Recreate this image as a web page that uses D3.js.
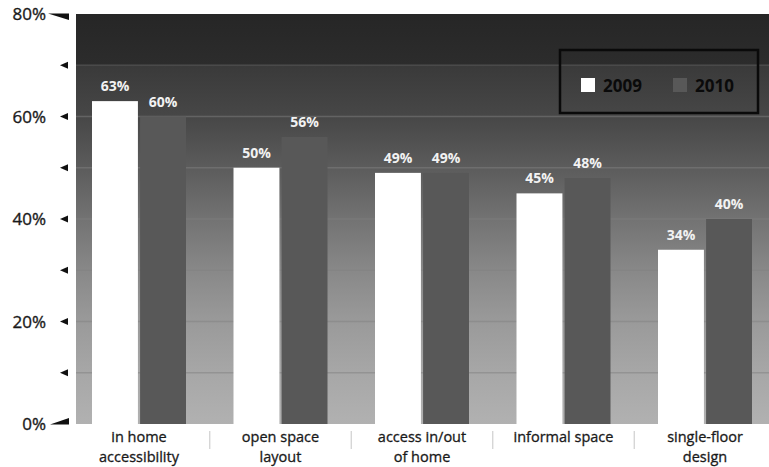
<!DOCTYPE html>
<html>
<head>
<meta charset="utf-8">
<script src="https://cdn.jsdelivr.net/npm/d3@7/dist/d3.min.js"></script>
<style>
  html, body { margin: 0; padding: 0; background: #fff; }
  svg { display: block; }
</style>
</head>
<body>
<svg id="chart" width="769" height="467"></svg>
<script>
// Survey results: share of respondents citing each home-design feature
const categories = [
  ["in home", "accessibility"],
  ["open space", "layout"],
  ["access in/out", "of home"],
  ["informal space"],
  ["single-floor", "design"]
];
const years = ["2009", "2010"];
const values2009 = [63, 50, 49, 45, 34];
const values2010 = [60, 56, 49, 48, 40];
const tickValues = [0, 20, 40, 60, 80];

const svg = d3.select("#chart");
const plot = { left: 76, right: 769, top: 14, bottom: 424 };
const font = "'Open Sans', 'Noto Sans', sans-serif";

const y = d3.scaleLinear().domain([0, 80]).range([plot.bottom, plot.top]);
const catKeys = categories.map(c => c.join(" "));
const x0 = d3.scalePoint().domain(catKeys).range([139, 705]);
const x1 = d3.scaleBand().domain(years).range([-47, 47]).paddingInner(0.045);
const fill = d3.scaleOrdinal().domain(years).range(["#ffffff", "#585858"]);

// background gradient of the plot panel (dark at the top, light at the base)
const defs = svg.append("defs");
const grad = defs.append("linearGradient").attr("id", "bg")
  .attr("x1", 0).attr("y1", 0).attr("x2", 0).attr("y2", 1);
[[0, "#262626"], [0.122, "#2c2c2c"], [0.127, "#3a3a3a"], [0.251, "#474747"],
 [0.376, "#5c5c5c"], [0.502, "#737373"], [0.624, "#888888"], [0.751, "#9a9a9a"],
 [0.876, "#a7a7a7"], [1, "#b1b1b1"]].forEach(([o, c]) =>
  grad.append("stop").attr("offset", o).attr("stop-color", c));

svg.append("rect")
  .attr("x", plot.left).attr("y", plot.top)
  .attr("width", plot.right - plot.left).attr("height", plot.bottom - plot.top)
  .attr("fill", "url(#bg)");

// faint horizontal gridlines every 10%
svg.append("g").selectAll("line")
  .data(d3.range(10, 80, 10))
  .join("line")
  .attr("x1", plot.left).attr("x2", plot.right)
  .attr("y1", d => y(d)).attr("y2", d => y(d))
  .attr("stroke", d => d === 70 ? "#4a4a4a" : "#808080")
  .attr("stroke-opacity", d => d === 70 ? 1 : 0.5)
  .attr("stroke-width", 1.5);

// bars
const rows = catKeys.map((k, i) => ({ key: k, vals: [values2009[i], values2010[i]] }));
const groups = svg.append("g").selectAll("g")
  .data(rows).join("g")
  .attr("transform", d => `translate(${x0(d.key)},0)`);

groups.selectAll("rect")
  .data(d => years.map((yr, j) => ({ yr, v: d.vals[j] })))
  .join("rect")
  .attr("x", d => x1(d.yr))
  .attr("y", d => y(d.v))
  .attr("width", x1.bandwidth())
  .attr("height", d => y(0) - y(d.v))
  .attr("fill", d => fill(d.yr));

groups.selectAll("text")
  .data(d => years.map((yr, j) => ({ yr, v: d.vals[j] })))
  .join("text")
  .attr("x", d => x1(d.yr) + x1.bandwidth() / 2)
  .attr("y", d => y(d.v) - 10)
  .attr("text-anchor", "middle")
  .attr("font-family", font).attr("font-weight", "bold").attr("font-size", 14)
  .attr("fill", "#f2f2f2")
  .text(d => d.v + "%");

// y axis: tick labels and pointer marks
const axis = svg.append("g");
axis.selectAll("text")
  .data(tickValues).join("text")
  .attr("x", 46).attr("y", d => y(d) + 6)
  .attr("text-anchor", "end")
  .attr("font-family", font).attr("font-size", 17)
  .attr("fill", "#1a1a1a").attr("stroke", "#1a1a1a").attr("stroke-width", 0.35)
  .text(d => d + "%");

axis.selectAll("path.minor")
  .data([10, 20, 30, 40, 50, 60, 70]).join("path")
  .attr("class", "minor")
  .attr("d", d => `M60,${y(d)} L68,${y(d) - 3.5} L68,${y(d) + 3.5} Z`)
  .attr("fill", "#111");

axis.append("path")
  .attr("d", `M48,${y(80) - 0.5} L69,${y(80) - 0.5} L69,${y(80) + 6} Z`)
  .attr("fill", "#111");
axis.append("path")
  .attr("d", `M50,${y(0) + 0.5} L69,${y(0) + 0.5} L69,${y(0) - 6} Z`)
  .attr("fill", "#111");

// category labels (one text per line) and separators
const xl = svg.append("g");
const lines = [];
categories.forEach((c, i) => c.forEach((t, j) => lines.push({ key: catKeys[i], t, j })));
xl.selectAll("text").data(lines).join("text")
  .attr("x", d => x0(d.key))
  .attr("y", d => 442 + d.j * 20)
  .attr("text-anchor", "middle")
  .attr("font-family", font).attr("font-size", 14.5)
  .attr("fill", "#1a1a1a").attr("stroke", "#1a1a1a").attr("stroke-width", 0.3)
  .text(d => d.t);

xl.selectAll("line").data(catKeys.slice(1)).join("line")
  .attr("x1", (d, i) => (x0(catKeys[i]) + x0(d)) / 2)
  .attr("x2", (d, i) => (x0(catKeys[i]) + x0(d)) / 2)
  .attr("y1", 431).attr("y2", 449)
  .attr("stroke", "#cfcfcf").attr("stroke-width", 1.2);

// legend
const lg = svg.append("g");
lg.append("rect")
  .attr("x", 560).attr("y", 50).attr("width", 198).attr("height", 63)
  .attr("fill", "none").attr("stroke", "#0a0a0a").attr("stroke-width", 2.5);
const items = lg.selectAll("g").data(years).join("g")
  .attr("transform", (d, i) => `translate(${581 + i * 92},78)`);
items.append("rect")
  .attr("width", 14).attr("height", 14)
  .attr("fill", d => fill(d));
items.append("text")
  .attr("x", 22).attr("y", 14)
  .attr("font-family", font).attr("font-weight", "bold").attr("font-size", 17)
  .attr("fill", "#0a0a0a")
  .text(d => d);
</script>
</body>
</html>
